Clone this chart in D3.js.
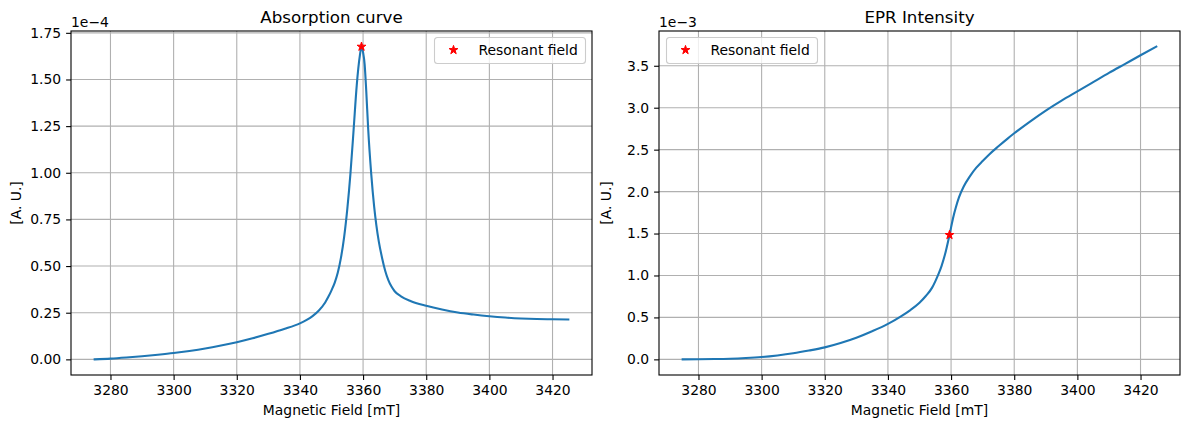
<!DOCTYPE html>
<html>
<head>
<meta charset="utf-8">
<script src="https://cdn.jsdelivr.net/npm/d3@7"></script>
<style>
  body { margin: 0; background: #fff; }
  text { font-family: "DejaVu Sans", sans-serif; fill: #000; }
</style>
</head>
<body>
<svg id="chart"></svg>
<script>
// field values (mT) and absorption (x 1e-4)
const absField = [3275, 3280, 3285, 3290, 3295, 3300, 3305, 3310, 3315, 3320, 3325, 3330, 3335, 3340,
  3342, 3344, 3346, 3348, 3349, 3350, 3351, 3352, 3353, 3354, 3355, 3356, 3357, 3358, 3359, 3359.5,
  3360, 3360.5, 3361, 3361.6, 3362.6, 3363.5, 3364.2, 3365, 3366, 3367, 3368, 3369, 3370, 3372,
  3375, 3380, 3385, 3390, 3395, 3400, 3405, 3410, 3415, 3420, 3425];
const absorption = [0.000, 0.004, 0.010, 0.017, 0.025, 0.034, 0.045, 0.058, 0.074, 0.092, 0.113, 0.137,
  0.163, 0.193, 0.210, 0.232, 0.262, 0.305, 0.335, 0.370, 0.410, 0.465, 0.545, 0.655, 0.805, 0.995,
  1.23, 1.47, 1.63, 1.676, 1.645, 1.58, 1.44, 1.24, 0.99, 0.82, 0.72, 0.63, 0.545, 0.475, 0.425,
  0.390, 0.365, 0.338, 0.313, 0.287, 0.267, 0.251, 0.240, 0.231, 0.224, 0.219, 0.216, 0.215, 0.214];

// field values (mT) and integrated EPR intensity (x 1e-3)
const eprField = [3275, 3280, 3285, 3290, 3295, 3300, 3305, 3310, 3315, 3320, 3325, 3330, 3335, 3340,
  3344, 3347, 3350, 3352, 3354, 3355, 3356, 3357, 3358, 3359.5, 3360.6, 3361.5, 3362.5, 3364, 3366,
  3368, 3370, 3372, 3375, 3378, 3380, 3385, 3390, 3395, 3400, 3405, 3410, 3415, 3420, 3425];
const eprIntensity = [0.000, 0.002, 0.004, 0.008, 0.016, 0.028, 0.047, 0.072, 0.105, 0.143, 0.195,
  0.258, 0.335, 0.423, 0.51, 0.585, 0.675, 0.755, 0.855, 0.93, 1.015, 1.115, 1.24, 1.483, 1.68, 1.81,
  1.93, 2.06, 2.185, 2.285, 2.365, 2.44, 2.54, 2.635, 2.695, 2.835, 2.966, 3.085, 3.195, 3.305, 3.415,
  3.52, 3.625, 3.728];

// resonant field markers
const resField = 3359.5;
const resAbsorption = 1.676;
const resIntensity = 1.483;

const xTicks = [3280, 3300, 3320, 3340, 3360, 3380, 3400, 3420];
const absTicks = [0, 0.25, 0.5, 0.75, 1.0, 1.25, 1.5, 1.75];
const eprTicks = [0, 0.5, 1.0, 1.5, 2.0, 2.5, 3.0, 3.5];

const width = 1190, height = 429;
const svg = d3.select("#chart").attr("width", width).attr("height", height);

function pad(ext) {
  let m = (ext[1] - ext[0]) * 0.05;
  return [ext[0] - m, ext[1] + m];
}

function panel(o) {
  let left = o.left, top = 31, w = 521, h = 344;
  let xs = o.xs, ys = o.ys;
  let pts = xs.map((x, i) => [x, ys[i]]);
  let x = d3.scaleLinear().domain(pad(d3.extent(xs))).range([left, left + w]);
  let y = d3.scaleLinear().domain(pad(d3.extent(ys))).range([top + h, top]);

  let g = svg.append("g");

  // grid
  g.append("g").selectAll("line").data(xTicks).enter().append("line")
    .attr("x1", d => x(d)).attr("x2", d => x(d)).attr("y1", top).attr("y2", top + h)
    .attr("stroke", "#b0b0b0").attr("stroke-width", 1.1);
  g.append("g").selectAll("line").data(o.yTicks).enter().append("line")
    .attr("x1", left).attr("x2", left + w).attr("y1", d => y(d)).attr("y2", d => y(d))
    .attr("stroke", "#b0b0b0").attr("stroke-width", 1.1);

  // axes
  let xAxis = d3.axisBottom(x).tickValues(xTicks).tickFormat(d3.format("d"))
    .tickSize(4.9).tickPadding(4.9).tickSizeOuter(0);
  let yAxis = d3.axisLeft(y).tickValues(o.yTicks).tickFormat(d3.format(o.fmt))
    .tickSize(4.9).tickPadding(4.9).tickSizeOuter(0);
  let ax = g.append("g").attr("transform", `translate(0,${top + h})`).call(xAxis);
  let ay = g.append("g").attr("transform", `translate(${left},0)`).call(yAxis);
  [ax, ay].forEach(a => {
    a.select(".domain").remove();
    a.selectAll(".tick line").attr("stroke", "#000").attr("stroke-width", 1.1);
    a.selectAll(".tick text").style("font-size", "13.9px").style("font-family", "DejaVu Sans");
  });
  ax.selectAll(".tick text").attr("dy", "0.71em");

  // curve
  g.append("path").datum(pts)
    .attr("d", d3.line().x(d => x(d[0])).y(d => y(d[1])).curve(d3.curveMonotoneX))
    .attr("fill", "none").attr("stroke", "#1f77b4").attr("stroke-width", 2.1)
    .attr("stroke-linejoin", "round").attr("stroke-linecap", "square");

  // resonant marker
  let star = d3.symbol().type(d3.symbolStar).size(24);
  g.append("path").attr("d", star)
    .attr("transform", `translate(${x(resField)},${y(o.res)})`)
    .attr("fill", "red").attr("stroke", "red").attr("stroke-width", 1);

  // frame
  g.append("rect").attr("x", left).attr("y", top).attr("width", w).attr("height", h)
    .attr("fill", "none").attr("stroke", "#000").attr("stroke-width", 1.1);

  // texts
  g.append("text").attr("x", left + w / 2).attr("y", 22.5).attr("text-anchor", "middle")
    .style("font-size", "16.7px").text(o.title);
  g.append("text").attr("x", left).attr("y", 26.5)
    .style("font-size", "13.9px").text(o.offset);
  g.append("text").attr("x", left + w / 2).attr("y", 415).attr("text-anchor", "middle")
    .style("font-size", "13.9px").text("Magnetic Field [mT]");
  g.append("text").attr("transform", `translate(${o.ylabelX},${top + h / 2}) rotate(-90)`)
    .attr("text-anchor", "middle").style("font-size", "13.9px").text("[A. U.]");

  // legend
  let lg = g.append("g").attr("transform", `translate(${o.legendX},37.5)`);
  lg.append("rect").attr("width", 151).attr("height", 26).attr("rx", 3)
    .attr("fill", "#fff").attr("fill-opacity", 0.8).attr("stroke", "#cccccc").attr("stroke-width", 1.1);
  lg.append("path").attr("d", star).attr("transform", "translate(19,12.5)")
    .attr("fill", "red").attr("stroke", "red").attr("stroke-width", 1);
  lg.append("text").attr("x", 44).attr("y", 17.5).style("font-size", "13.9px").text("Resonant field");
}

panel({ left: 71, xs: absField, ys: absorption, yTicks: absTicks, fmt: ".2f", res: resAbsorption,
  title: "Absorption curve", offset: "1e\u22124", ylabelX: 20.5, legendX: 434.5 });
panel({ left: 659, xs: eprField, ys: eprIntensity, yTicks: eprTicks, fmt: ".1f", res: resIntensity,
  title: "EPR Intensity", offset: "1e\u22123", ylabelX: 610.5, legendX: 666.5 });
</script>
</body>
</html>
